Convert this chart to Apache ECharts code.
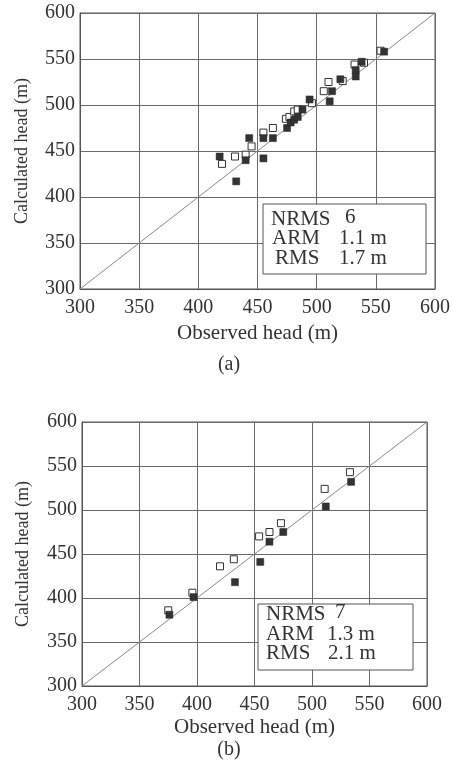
<!DOCTYPE html>
<html>
<head>
<meta charset="utf-8">
<script src="https://cdn.jsdelivr.net/npm/echarts@6/dist/echarts.min.js"></script>
<style>
html,body{margin:0;padding:0;background:#fff;}
#chart{width:453px;height:763px;}
</style>
</head>
<body>
<div id="chart"></div>
<script>
// ---- Data ----
const axisMin = 300;
const axisMax = 600;
const axisStep = 50;
const oneToOne = [[300, 300], [600, 600]];

// (a) open and filled markers: [observed, calculated]
const openA = [[420,436],[431,444],[440,446],[445,455],[455,470],[463,475],[474,485],[477,487],[481,493],[484,495],[496,502],[506,515],[510,525],[522,526],[532,544],[540,546],[554,559]];
const filledA = [[418,444],[432,417],[440,440],[443,464],[455,464],[455,442],[463,464],[475,475],[478,481],[481,484],[484,487],[488,495],[494,506],[511,504],[513,515],[520,528],[533,538],[533,531],[538,547],[557,558]];

// (b)
const openB = [[375,386],[396,406],[420,436],[432,444],[454,470],[463,475],[473,485],[511,524],[533,543]];
const filledB = [[376,381],[397,401],[433,418],[455,441],[463,464],[475,475],[512,504],[534,532]];

const statNames = ['NRMS', 'ARM', 'RMS'];
const statsA = ['6', '1.1 m', '1.7 m'];
const statsB = ['7', '1.3 m', '2.1 m'];
const xName = 'Observed head (m)';
const yName = 'Calculated head (m)';
const captions = ['(a)', '(b)'];

// ---- Chart ----
const FONT = '"Liberation Serif", "Times New Roman", serif';
const chart = echarts.init(document.getElementById('chart'));

function xAx(gi, gap) {
  return {
    gridIndex: gi, type: 'value', min: axisMin, max: axisMax, interval: axisStep,
    name: xName, nameLocation: 'middle', nameGap: gap,
    nameTextStyle: {fontFamily: FONT, fontSize: 21, color: '#333'},
    axisLine: {show: true, lineStyle: {color: '#555', width: 1}},
    axisTick: {show: false},
    axisLabel: {fontFamily: FONT, fontSize: 20, color: '#333', margin: 9},
    splitLine: {show: true, lineStyle: {color: '#6a6a6a', width: 1}}
  };
}
function yAx(gi, gap) {
  return {
    gridIndex: gi, type: 'value', min: axisMin, max: axisMax, interval: axisStep,
    name: yName, nameLocation: 'middle', nameGap: gap, nameRotate: 90,
    nameTextStyle: {fontFamily: FONT, fontSize: 18, color: '#333'},
    axisLine: {show: true, lineStyle: {color: '#555', width: 1}},
    axisTick: {show: false},
    axisLabel: {fontFamily: FONT, fontSize: 20, color: '#333', margin: 5},
    splitLine: {show: true, lineStyle: {color: '#6a6a6a', width: 1}}
  };
}
function lineSeries(i) {
  return {type: 'line', xAxisIndex: i, yAxisIndex: i, data: oneToOne, symbol: 'none', silent: true,
    lineStyle: {color: '#888', width: 1}, z: 1, animation: false};
}
function openSeries(i, d) {
  return {type: 'scatter', xAxisIndex: i, yAxisIndex: i, data: d, symbol: 'rect', symbolSize: 7,
    itemStyle: {color: '#fff', borderColor: '#333', borderWidth: 1, opacity: 1}, z: 3, animation: false};
}
function filledSeries(i, d) {
  return {type: 'scatter', xAxisIndex: i, yAxisIndex: i, data: d, symbol: 'rect', symbolSize: 7,
    itemStyle: {color: '#333', borderColor: '#222', borderWidth: 0.5, opacity: 1}, z: 4, animation: false};
}
function statBox(x, y, w, h, rows, vals, nameX, valX, rowY) {
  const els = [{type: 'rect', shape: {x: x, y: y, width: w, height: h},
    style: {fill: '#fff', stroke: '#555', lineWidth: 1}, z: 10}];
  rows.forEach((r, k) => {
    els.push({type: 'text', x: nameX[k], y: rowY[k], z: 11,
      style: {text: r, fontFamily: FONT, fontSize: 21, fill: '#333', verticalAlign: 'middle'}});
    els.push({type: 'text', x: valX[k], y: rowY[k] - (k === 0 ? 2 : 0), z: 11,
      style: {text: vals[k], fontFamily: FONT, fontSize: 21, fill: '#333', verticalAlign: 'middle'}});
  });
  return els;
}

const option = {
  backgroundColor: '#fff',
  animation: false,
  grid: [
    {left: 80, top: 13, width: 361, height: 276, show: true, borderColor: '#555', borderWidth: 1},
    {left: 82, top: 422, width: 345, height: 264, show: true, borderColor: '#555', borderWidth: 1}
  ],
  xAxis: [xAx(0, 34), xAx(1, 31)],
  yAxis: [yAx(0, 49), yAx(1, 50)],
  series: [
    lineSeries(0), openSeries(0, openA), filledSeries(0, filledA),
    lineSeries(1), openSeries(1, openB), filledSeries(1, filledB)
  ],
  graphic: [].concat(
    statBox(263, 204, 163, 70, statNames, statsA, [271, 272, 275], [345, 339, 339], [219, 238, 258]),
    statBox(258, 604, 155, 66, statNames, statsB, [266, 266, 266], [335, 327, 328], [614, 634, 653]),
    [
      {type: 'text', x: 229, y: 365, style: {text: captions[0], fontFamily: FONT, fontSize: 20, fill: '#333', align: 'center', verticalAlign: 'middle'}},
      {type: 'text', x: 229, y: 750, style: {text: captions[1], fontFamily: FONT, fontSize: 20, fill: '#333', align: 'center', verticalAlign: 'middle'}}
    ]
  )
};
chart.setOption(option);
</script>
</body>
</html>
